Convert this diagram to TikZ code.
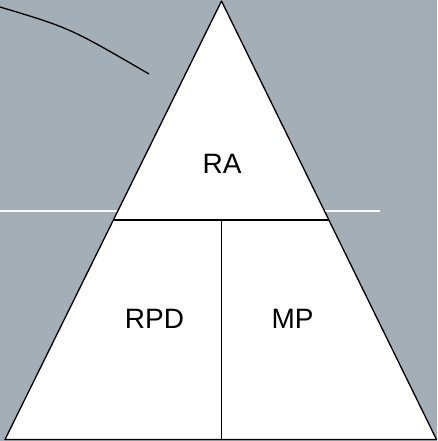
\documentclass[tikz,border=0pt]{standalone}
\usepackage{fontspec}
\setmainfont{Liberation Sans}
\definecolor{slate}{HTML}{A4AEB6}

\begin{document}
\begin{tikzpicture}[
    x=1pt, y=-1pt,
    lbl/.style={font=\fontsize{28}{30}\selectfont, inner sep=0pt},
    edge/.style={draw=black, line width=1.3pt},
  ]
  \fill[slate] (0,0) rectangle (437,441);
  \useasboundingbox (0,0) rectangle (437,441);
  % guide line behind the triangle
  \coordinate (gl) at (0,211);
  \coordinate (gr) at (380,211);
  \draw[white, line width=1.3pt] (gl) -- (gr);
  % triangle
  \coordinate (top) at (221.5,1);
  \coordinate (bl) at (5,439.5);
  \coordinate (br) at (436.5,439.5);
  \filldraw[fill=white, edge, line join=round] (top) -- (bl) -- (br) -- cycle;
  \coordinate (ml) at (113.3,220);
  \coordinate (mr) at (329,220);
  \coordinate (mc) at (221.5,220);
  \coordinate (bc) at (221.5,439.5);
  \draw[edge] (ml) -- (mr);
  \draw[edge] (mc) -- (bc);
  % curve at top left
  \coordinate (ca) at (0,7);
  \coordinate (cb) at (149,74);
  \draw[edge] (ca) .. controls (70,28) .. (cb);
  \node[lbl] (ra)  at (222,164)   {RA};
  \node[lbl] (rpd) at (154.5,318.5) {RPD};
  \node[lbl] (mp)  at (292.5,318.5) {MP};
\end{tikzpicture}
\end{document}
